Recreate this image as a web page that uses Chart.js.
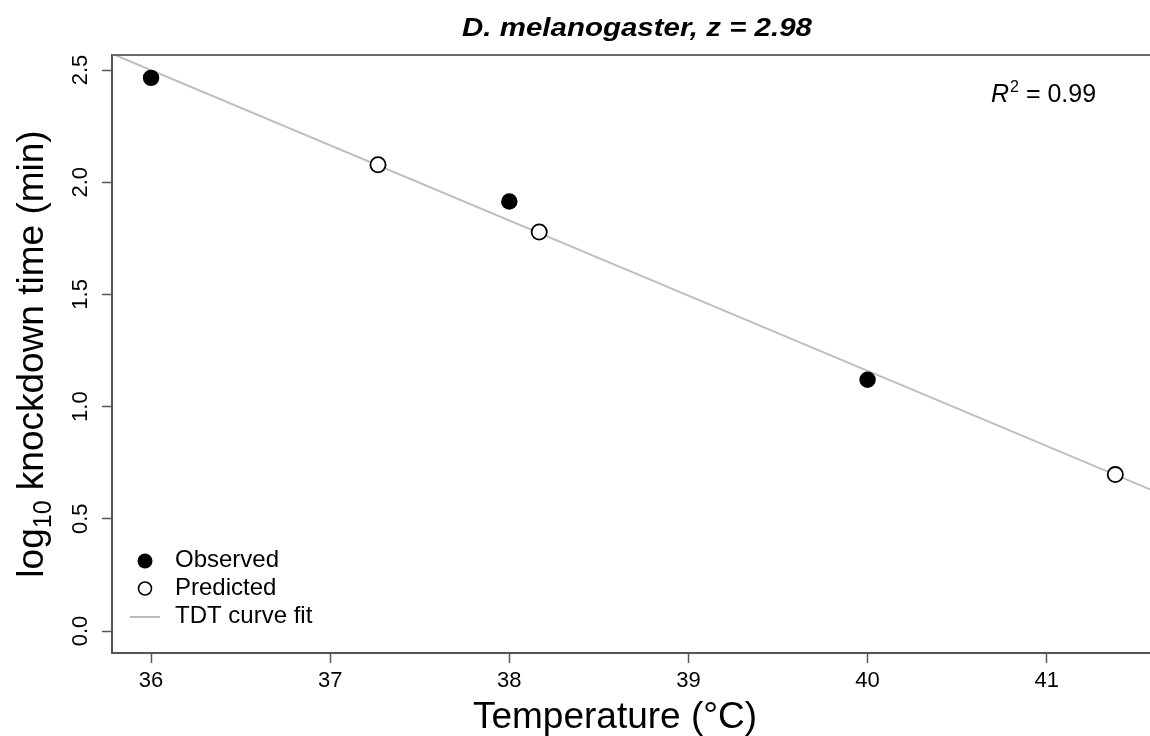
<!DOCTYPE html>
<html>
<head>
<meta charset="utf-8">
<script src="https://cdn.jsdelivr.net/npm/chart.js@4/dist/chart.umd.min.js"></script>
<style>
  html, body { margin: 0; background: #fff; overflow: hidden; }
  canvas { display: block; }
</style>
</head>
<body>
<canvas id="tdt" width="1160" height="736"></canvas>
<script>
// values
const obsTemp = [36, 38, 40];
const obsLogKd = [2.465, 1.914, 1.12];
const predTemp = [37.267, 38.167, 41.383];
const predLogKd = [2.078, 1.778, 0.697];
const fitTemp = [35.7, 41.7];
const fitLogKd = [2.60, 0.59];
const xTicks = [36, 37, 38, 39, 40, 41];
const yTicks = [0, 0.5, 1, 1.5, 2, 2.5];
const yTickLabels = ["0.0", "0.5", "1.0", "1.5", "2.0", "2.5"];

const FONT = '"Liberation Sans", Arial, Helvetica, sans-serif';
const AXIS = '#555';

function pts(xs, ys) {
  return xs.map(function (x, i) { return {x: x, y: ys[i]}; });
}

// R style text: titles, tick labels, legend, R squared
const rText = {
  id: 'rText',
  afterDraw: function (chart) {
    const ctx = chart.ctx;
    const xs = chart.scales.x, ys = chart.scales.y;
    const area = chart.chartArea;
    ctx.save();

    // top frame line
    ctx.strokeStyle = '#6a6a6a';
    ctx.lineWidth = 2;
    ctx.beginPath();
    ctx.moveTo(area.left, area.top);
    ctx.lineTo(chart.width, area.top);
    ctx.stroke();

    ctx.fillStyle = '#000';

    // x tick labels
    ctx.font = '22px ' + FONT;
    ctx.textAlign = 'center';
    ctx.textBaseline = 'middle';
    xTicks.forEach(function (t) {
      ctx.fillText(String(t), xs.getPixelForValue(t), 681);
    });

    // y tick labels, rotated
    yTicks.forEach(function (t, i) {
      ctx.save();
      ctx.translate(81, ys.getPixelForValue(t));
      ctx.rotate(-Math.PI / 2);
      ctx.fillText(yTickLabels[i], 0, 0);
      ctx.restore();
    });

    // x title
    ctx.font = '37px ' + FONT;
    ctx.textBaseline = 'alphabetic';
    ctx.fillText('Temperature (\u00B0C)', 615, 728);

    // y title with subscript
    ctx.save();
    ctx.translate(43, 354);
    ctx.rotate(-Math.PI / 2);
    ctx.textAlign = 'left';
    const big = '37px ' + FONT, small = '25px ' + FONT;
    ctx.font = big;
    const w1 = ctx.measureText('log').width;
    const w3 = ctx.measureText(' knockdown time (min)').width;
    ctx.font = small;
    const w2 = ctx.measureText('10').width;
    let x0 = -(w1 + w2 + w3) / 2;
    ctx.font = big;
    ctx.fillText('log', x0, 0);
    ctx.font = small;
    ctx.fillText('10', x0 + w1, 8);
    ctx.font = big;
    ctx.fillText(' knockdown time (min)', x0 + w1 + w2, 0);
    ctx.restore();

    // main title, bold italic
    ctx.save();
    ctx.font = 'italic bold 26px ' + FONT;
    const tw = ctx.measureText('D. melanogaster, z = 2.98').width;
    ctx.translate(637, 36);
    ctx.scale(350 / tw, 1);
    ctx.textAlign = 'center';
    ctx.fillText('D. melanogaster, z = 2.98', 0, 0);
    ctx.restore();

    // R squared
    ctx.textAlign = 'left';
    ctx.font = 'italic 25px ' + FONT;
    ctx.fillText('R', 991, 102);
    let rx = 991 + ctx.measureText('R').width;
    ctx.font = '16px ' + FONT;
    ctx.fillText('2', rx + 1, 92);
    rx += ctx.measureText('2').width + 1;
    ctx.font = '25px ' + FONT;
    ctx.fillText(' = 0.99', rx, 102);

    // legend
    ctx.font = '24px ' + FONT;
    ctx.textBaseline = 'alphabetic';
    ctx.fillText('Observed', 175, 567);
    ctx.fillText('Predicted', 175, 595);
    ctx.fillText('TDT curve fit', 175, 623);
    ctx.beginPath();
    ctx.arc(145, 561, 7.5, 0, Math.PI * 2);
    ctx.fill();
    ctx.beginPath();
    ctx.arc(145, 588.5, 6.5, 0, Math.PI * 2);
    ctx.fillStyle = '#fff';
    ctx.fill();
    ctx.strokeStyle = '#000';
    ctx.lineWidth = 1.6;
    ctx.stroke();
    ctx.beginPath();
    ctx.moveTo(130, 617);
    ctx.lineTo(160, 617);
    ctx.strokeStyle = '#bdbdbd';
    ctx.lineWidth = 2;
    ctx.stroke();

    ctx.restore();
  }
};

const ctx = document.getElementById('tdt').getContext('2d');
const tdtChart = new Chart(ctx, {
  type: 'scatter',
  data: {
    datasets: [
      {
        label: 'Observed',
        data: pts(obsTemp, obsLogKd),
        pointRadius: 8.2,
        pointBackgroundColor: '#000',
        pointBorderColor: '#000',
        pointBorderWidth: 0,
        order: 0
      },
      {
        label: 'Predicted',
        data: pts(predTemp, predLogKd),
        pointRadius: 7.6,
        pointBackgroundColor: '#fff',
        pointBorderColor: '#000',
        pointBorderWidth: 1.8,
        order: 1
      },
      {
        label: 'TDT curve fit',
        data: pts(fitTemp, fitLogKd),
        showLine: true,
        pointRadius: 0,
        borderColor: '#bdbdbd',
        borderWidth: 2,
        clip: 0,
        order: 2
      }
    ]
  },
  options: {
    responsive: false,
    animation: false,
    devicePixelRatio: 1,
    layout: { padding: { left: 102, top: 55, right: 0, bottom: 73 } },
    plugins: {
      legend: { display: false },
      title: { display: false },
      tooltip: { enabled: false }
    },
    scales: {
      x: {
        type: 'linear',
        min: 35.782,
        max: 41.58,
        afterBuildTicks: function (axis) {
          axis.ticks = xTicks.map(function (v) { return {value: v}; });
        },
        ticks: { display: false },
        grid: { drawOnChartArea: false, drawTicks: true, tickLength: 10, tickColor: AXIS, tickWidth: 1.5 },
        border: { display: true, color: AXIS, width: 2 }
      },
      y: {
        type: 'linear',
        min: -0.098,
        max: 2.567,
        afterBuildTicks: function (axis) {
          axis.ticks = yTicks.map(function (v) { return {value: v}; });
        },
        ticks: { display: false },
        grid: { drawOnChartArea: false, drawTicks: true, tickLength: 10, tickColor: AXIS, tickWidth: 1.5 },
        border: { display: true, color: AXIS, width: 2 }
      }
    }
  },
  plugins: [rText]
});
</script>
</body>
</html>
